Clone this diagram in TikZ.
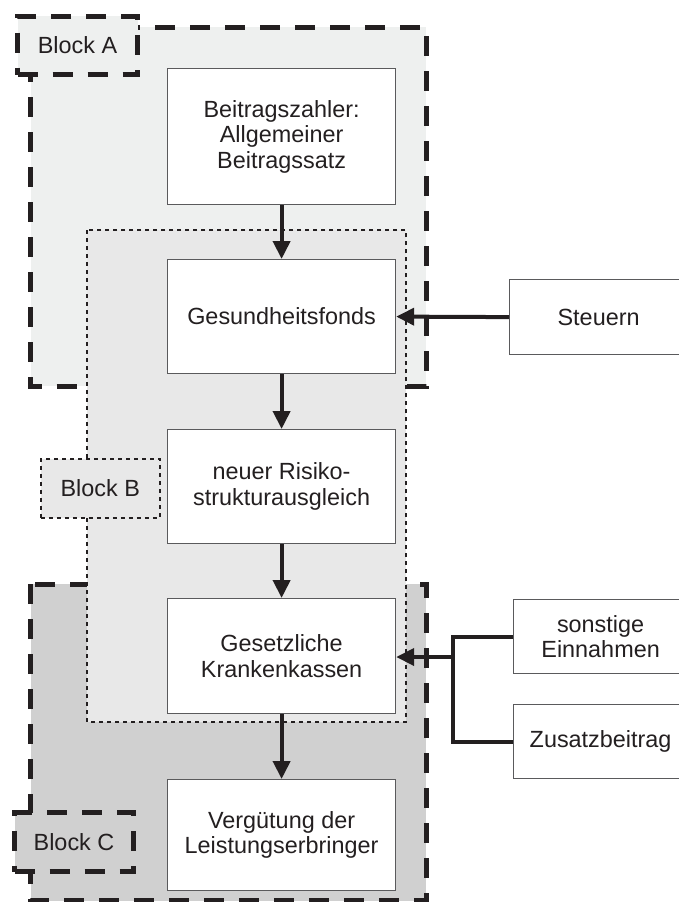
\documentclass[tikz,border=0pt]{standalone}
\usepackage{fontspec}
\setmainfont{Liberation Sans}
\usetikzlibrary{arrows.meta}
\definecolor{fillA}{RGB}{238,240,239}
\definecolor{fillB}{RGB}{232,232,232}
\definecolor{fillC}{RGB}{208,208,208}
\definecolor{ink}{RGB}{35,31,32}
\definecolor{boxline}{RGB}{90,90,92}
\tikzset{
  txt/.style={font=\fontsize{23.4}{25.5}\selectfont, text=ink, align=center},
  thickdash/.style={draw=ink, line width=5pt, dash pattern=on 20pt off 15pt},
  finedash/.style={draw=ink, line width=1.5pt, dash pattern=on 4pt off 4pt},
  flowbox/.style={txt, draw=boxline, fill=white, line width=1.2pt, anchor=north west, inner sep=0pt},
  blocklabel/.style={txt, anchor=north west, inner sep=0pt},
  arr/.style={draw=ink, line width=4pt, -{Triangle[length=18pt,width=17pt]}},
  feed/.style={draw=ink, line width=3.3pt},
}
\begin{document}
\begin{tikzpicture}[x=1pt,y=-1pt]
\useasboundingbox (0,0) rectangle (679,902);
% Block regions
\path[fill=fillA, thickdash] (30.5,27) rectangle (426,386);
\path[fill=fillC, thickdash] (30.5,584) rectangle (426,900.5);
\path[fill=fillB, finedash] (87,230) rectangle (406,722);
% Block labels
\node[blocklabel, fill=fillA, thickdash, minimum width=120pt, minimum height=58.5pt] (la) at (15,13.5) {Block A};
\node[blocklabel, fill=fillB, finedash, minimum width=119pt, minimum height=59pt] (lb) at (40,458) {Block B};
\node[blocklabel, fill=fillC, thickdash, minimum width=119pt, minimum height=59pt] (lc) at (12,810) {Block C};
% Flow boxes
\node[flowbox, minimum width=228pt, minimum height=136pt] (n1) at (167,68) {Beitragszahler:\\Allgemeiner\\Beitragssatz};
\node[flowbox, minimum width=228pt, minimum height=114pt] (n2) at (167,259) {Gesundheitsfonds};
\node[flowbox, minimum width=228pt, minimum height=114pt] (n3) at (167,429) {neuer Risiko-\\strukturausgleich};
\node[flowbox, minimum width=228pt, minimum height=115pt] (n4) at (167,598) {Gesetzliche\\Krankenkassen};
\node[flowbox, minimum width=228pt, minimum height=111pt] (n5) at (167,779) {Vergütung der\\Leistungserbringer};
\node[flowbox, minimum width=178pt, minimum height=75pt] (st) at (509,279) {Steuern};
\node[flowbox, minimum width=174pt, minimum height=74pt] (so) at (513,599) {sonstige\\Einnahmen};
\node[flowbox, minimum width=174pt, minimum height=74pt] (zu) at (513,704) {Zusatzbeitrag};
% Connectors
\draw[arr] (n1.south) -- (n2.north);
\draw[arr] (n2.south) -- (n3.north);
\draw[arr] (n3.south) -- (n4.north);
\draw[arr] (n4.south) -- (n5.north);
\draw[arr] (st.west) -- (n2.east);
\coordinate (j) at (453,657);
\coordinate (jt) at (453,637);
\coordinate (jb) at (453,742);
\draw[feed] (so.west |- jt) -- (jt) -- (jb) -- (zu.west |- jb);
\draw[arr] (j) -- (n4.east |- j);
\end{tikzpicture}
\end{document}
